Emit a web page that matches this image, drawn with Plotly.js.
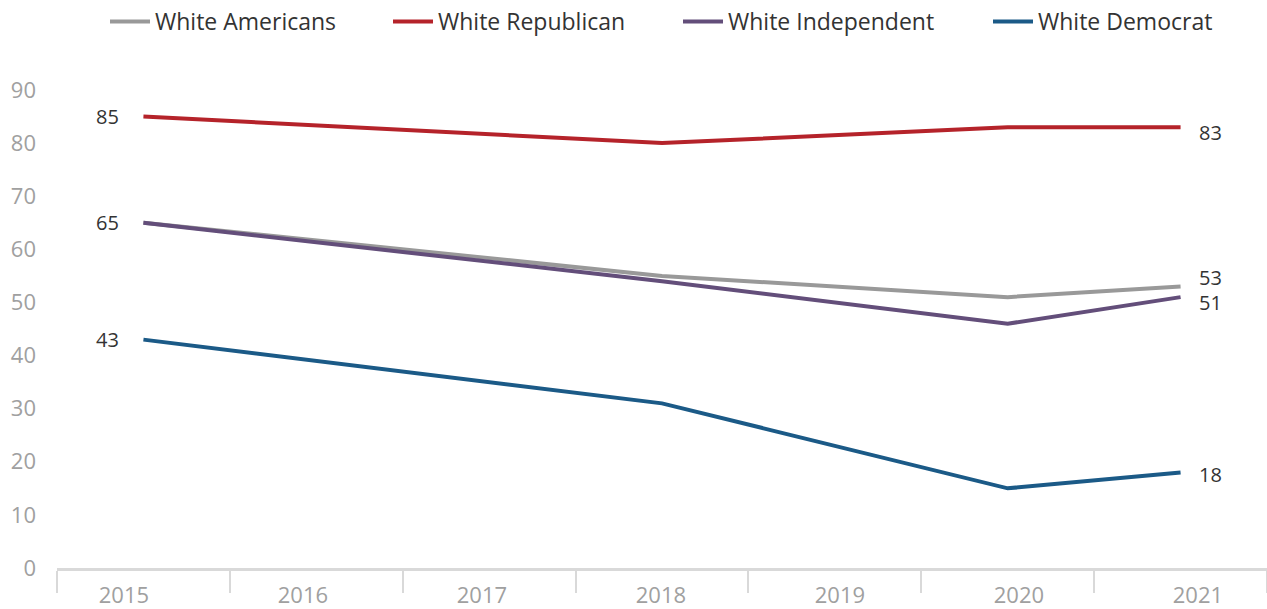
<!DOCTYPE html>
<html>
<head>
<meta charset="utf-8">
<script src="https://cdn.plot.ly/plotly-3.0.1.min.js"></script>
<style>
html,body{margin:0;padding:0;background:#fff;}
#chart{width:1267px;height:609px;}
</style>
</head>
<body>
<div id="chart"></div>
<script>
const years = [2015, 2018, 2020, 2021];
const tickYears = [2015, 2016, 2017, 2018, 2019, 2020, 2021];
const seriesNames = ["White Americans", "White Republican", "White Independent", "White Democrat"];
const whiteAmericans = [65, 55, 51, 53];
const whiteRepublican = [85, 80, 83, 83];
const whiteIndependent = [65, 54, 46, 51];
const whiteDemocrat = [43, 31, 15, 18];
const colors = ["#999999", "#b5232a", "#634e7a", "#1b5a87"];

const allValues = [whiteAmericans, whiteRepublican, whiteIndependent, whiteDemocrat];
const legendIds = ["legend", "legend2", "legend3", "legend4"];
const legendX = [105, 388, 678, 988];

const traces = allValues.map((vals, i) => ({
  type: "scatter",
  mode: "lines",
  x: years,
  y: vals,
  name: seriesNames[i],
  legend: legendIds[i],
  line: {color: colors[i], width: 4},
  hoverinfo: "skip",
  xaxis: "x",
  yaxis: "y"
}));

traces.push({
  type: "scatter", mode: "markers", x: tickYears, y: tickYears.map(() => null),
  xaxis: "x2", yaxis: "y", showlegend: false, hoverinfo: "skip",
  marker: {opacity: 0}
});

const startLabelSeries = [1, 0, 3];
const endLabelSeries = [1, 0, 2, 3];
const endYShift = {1: -5, 0: 9, 2: -5, 3: -2};

const annotations = [];
startLabelSeries.forEach(i => {
  annotations.push({
    x: years[0], y: allValues[i][0], xref: "x", yref: "y",
    text: String(allValues[i][0]), showarrow: false,
    xanchor: "right", yanchor: "middle", xshift: -22,
    font: {size: 20, color: "#333333", family: "Open Sans"}
  });
});
endLabelSeries.forEach(i => {
  const n = years.length - 1;
  annotations.push({
    x: years[n], y: allValues[i][n], xref: "x", yref: "y",
    text: String(allValues[i][n]), showarrow: false,
    xanchor: "left", yanchor: "middle", xshift: 16, yshift: endYShift[i],
    font: {size: 20, color: "#333333", family: "Open Sans"}
  });
});

const boundaries = [];
for (let k = 0; k <= tickYears.length; k++) boundaries.push(tickYears[0] - 0.5 + k);

const layout = {
  width: 1267, height: 609,
  margin: {l: 57, r: 0, t: 90, b: 41},
  paper_bgcolor: "#ffffff", plot_bgcolor: "#ffffff",
  font: {family: "Open Sans", size: 20, color: "#333333"},
  showlegend: true,
  xaxis: {
    range: [tickYears[0] - 0.5, tickYears[tickYears.length - 1] + 0.5],
    tickmode: "array", tickvals: boundaries, ticktext: boundaries.map(() => ""),
    ticks: "outside", ticklen: 22, tickwidth: 2, tickcolor: "#d9d9d9",
    showline: true, linecolor: "#d9d9d9", linewidth: 3,
    showgrid: false, zeroline: false, fixedrange: true
  },
  xaxis2: {
    overlaying: "x", anchor: "y", side: "bottom",
    range: [2014.626, 2021.386],
    tickmode: "array", tickvals: tickYears, ticktext: tickYears.map(String),
    ticks: "", showline: false, showgrid: false, zeroline: false,
    tickfont: {size: 22, color: "#a0a0a0", family: "Open Sans"},
    ticklabelstandoff: 12
  },
  yaxis: {
    range: [0, 90], dtick: 10, tick0: 0,
    showgrid: false, zeroline: false, showline: false, ticks: "",
    tickfont: {size: 22, color: "#a0a0a0", family: "Open Sans"},
    ticklabelstandoff: 20, fixedrange: true
  },
  annotations: annotations
};

legendIds.forEach((id, i) => {
  layout[id] = {
    orientation: "h", xref: "container", yref: "container",
    x: legendX[i] / 1267, xanchor: "left", y: 1, yanchor: "top",
    font: {size: 23, color: "#333333", family: "Open Sans"},
    itemwidth: 40, bgcolor: "rgba(0,0,0,0)"
  };
});

Plotly.newPlot("chart", traces, layout, {displayModeBar: false, staticPlot: true});
</script>
</body>
</html>
